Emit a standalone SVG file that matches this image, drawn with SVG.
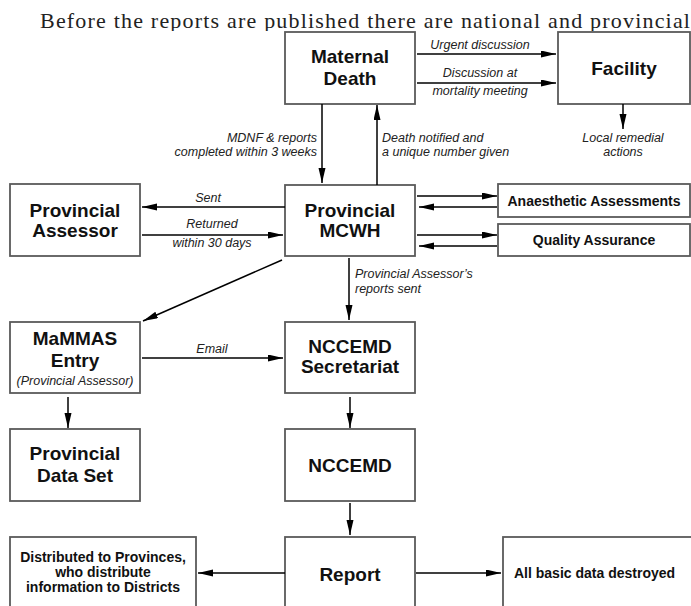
<svg xmlns="http://www.w3.org/2000/svg" width="691" height="606" viewBox="0 0 691 606">
<style>
.box{fill:#fff;stroke:#5a5a5a;stroke-width:1.8}
.t{font-family:"Liberation Sans",Arial,sans-serif;font-weight:bold;font-size:19px;fill:#111;text-anchor:middle}
.s{font-family:"Liberation Sans",Arial,sans-serif;font-weight:bold;font-size:14px;fill:#111;text-anchor:middle}
.sl{font-family:"Liberation Sans",Arial,sans-serif;font-weight:bold;font-size:14px;fill:#111;text-anchor:start}
.i{font-family:"Liberation Sans",Arial,sans-serif;font-style:italic;font-size:12.5px;fill:#222}
.c{text-anchor:middle}
.e{text-anchor:end}
.a{stroke:#000;stroke-width:1.5;fill:none;marker-end:url(#ah)}
</style>
<defs>
<marker id="ah" markerUnits="userSpaceOnUse" markerWidth="15" markerHeight="8" refX="15" refY="3.5" orient="auto">
<path d="M0,0 L15,3.5 L0,7 z" fill="#000"/>
</marker>
<clipPath id="clipTitle"><rect x="0" y="0" width="691" height="31"/></clipPath>
</defs>
<rect width="691" height="606" fill="#fff"/>
<text x="40" y="28" clip-path="url(#clipTitle)" font-family="'Liberation Serif','Times New Roman',serif" font-size="22" fill="#222" textLength="650" lengthAdjust="spacing">Before the reports are published there are national and provincial</text>

<g id="maternal-death"><rect class="box" x="285" y="32" width="130" height="72"/><text class="t" x="350" y="63">Maternal</text><text class="t" x="350" y="85">Death</text></g>
<g id="facility"><rect class="box" x="558" y="32" width="132" height="72"/><text class="t" x="624" y="75">Facility</text></g>
<g id="provincial-assessor"><rect class="box" x="10" y="184" width="130" height="72"/><text class="t" x="75" y="217">Provincial</text><text class="t" x="75" y="237">Assessor</text></g>
<g id="provincial-mcwh"><rect class="box" x="285" y="185" width="130" height="71"/><text class="t" x="350" y="217">Provincial</text><text class="t" x="350" y="237">MCWH</text></g>
<g id="anaesthetic"><rect class="box" x="498" y="184" width="192" height="33"/><text class="s" x="594" y="206">Anaesthetic Assessments</text></g>
<g id="quality"><rect class="box" x="498" y="224" width="192" height="32"/><text class="s" x="594" y="245">Quality Assurance</text></g>
<g id="mammas"><rect class="box" x="10" y="322" width="130" height="71"/><text class="t" x="75" y="345">MaMMAS</text><text class="t" x="75" y="367">Entry</text><text class="i c" x="75" y="385">(Provincial Assessor)</text></g>
<g id="secretariat"><rect class="box" x="285" y="322" width="130" height="71"/><text class="t" x="350" y="353">NCCEMD</text><text class="t" x="350" y="373">Secretariat</text></g>
<g id="data-set"><rect class="box" x="10" y="429" width="130" height="72"/><text class="t" x="75" y="460">Provincial</text><text class="t" x="75" y="482">Data Set</text></g>
<g id="nccemd"><rect class="box" x="285" y="429" width="130" height="72"/><text class="t" x="350" y="472">NCCEMD</text></g>
<g id="distributed"><rect class="box" x="10" y="537" width="186" height="80"/><text class="s" x="103" y="562">Distributed to Provinces,</text><text class="s" x="103" y="577">who distribute</text><text class="s" x="103" y="592">information to Districts</text></g>
<g id="report"><rect class="box" x="285" y="537" width="130" height="80"/><text class="t" x="350" y="581">Report</text></g>
<g id="destroyed"><rect class="box" x="503" y="537" width="200" height="80"/><text class="sl" x="514" y="578">All basic data destroyed</text></g>

<g id="connectors">
<line class="a" x1="417" y1="54" x2="556" y2="54"/>
<line class="a" x1="417" y1="83" x2="556" y2="83"/>
<line class="a" x1="623" y1="104" x2="623" y2="129"/>
<line class="a" x1="322" y1="104" x2="322" y2="183"/>
<line class="a" x1="377" y1="185" x2="377" y2="105"/>
<line class="a" x1="285" y1="207" x2="142" y2="207"/>
<line class="a" x1="142" y1="235" x2="283" y2="235"/>
<line class="a" x1="417" y1="196" x2="497" y2="196"/>
<line class="a" x1="497" y1="207" x2="419" y2="207"/>
<line class="a" x1="417" y1="235" x2="497" y2="235"/>
<line class="a" x1="497" y1="246" x2="419" y2="246"/>
<line class="a" x1="282" y1="260" x2="143" y2="321"/>
<line class="a" x1="349" y1="258" x2="349" y2="320"/>
<line class="a" x1="142" y1="358" x2="283" y2="358"/>
<line class="a" x1="68" y1="397" x2="68" y2="428"/>
<line class="a" x1="350" y1="397" x2="350" y2="428"/>
<line class="a" x1="350" y1="503" x2="350" y2="535"/>
<line class="a" x1="285" y1="573" x2="198" y2="573"/>
<line class="a" x1="416" y1="573" x2="501" y2="573"/>
<text class="i c" x="480" y="49">Urgent discussion</text>
<text class="i c" x="480" y="77">Discussion at</text>
<text class="i c" x="480" y="95">mortality meeting</text>
<text class="i c" x="623" y="142">Local remedial</text>
<text class="i c" x="623" y="156">actions</text>
<text class="i e" x="317" y="142">MDNF &amp; reports</text>
<text class="i e" x="317" y="156">completed within 3 weeks</text>
<text class="i" x="382" y="142">Death notified and</text>
<text class="i" x="382" y="156">a unique number given</text>
<text class="i c" x="208" y="202">Sent</text>
<text class="i c" x="212" y="228">Returned</text>
<text class="i c" x="212" y="247">within 30 days</text>
<text class="i" x="355" y="278">Provincial Assessor’s</text>
<text class="i" x="355" y="293">reports sent</text>
<text class="i c" x="212" y="353">Email</text>
</g>
</svg>
